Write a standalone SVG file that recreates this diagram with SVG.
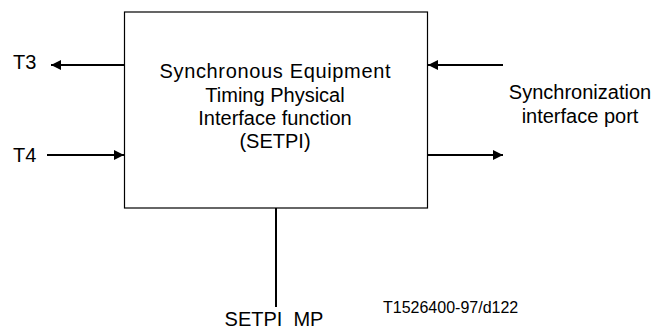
<svg xmlns="http://www.w3.org/2000/svg" width="657" height="331" viewBox="0 0 657 331">
<style>
text{font-family:"Liberation Sans",Arial,sans-serif;font-size:20px;fill:#000;white-space:pre}
.ln{stroke:#000;stroke-width:2;fill:none}
.box{fill:#fff;stroke:#000;stroke-width:1.2}
</style>
<defs>
<marker id="ah" viewBox="0 0 10 10" refX="10" refY="5" markerWidth="14" markerHeight="10" markerUnits="userSpaceOnUse" orient="auto">
<path d="M0,0 L10,5 L0,10 Z" fill="#000"/>
</marker>
</defs>
<g id="setpi">
<rect class="box" x="124.5" y="12" width="303" height="196"/>
<text text-anchor="middle" x="275" y="78" textLength="231" lengthAdjust="spacing">Synchronous Equipment</text>
<text text-anchor="middle" x="275" y="102">Timing Physical</text>
<text text-anchor="middle" x="275" y="125">Interface function</text>
<text text-anchor="middle" x="275" y="148">(SETPI)</text>
</g>
<g id="t3"><text x="13" y="69">T3</text></g>
<g id="t4"><text x="13" y="162">T4</text></g>
<g id="sync"><text text-anchor="middle" x="580" y="99">Synchronization</text><text text-anchor="middle" x="580" y="123">interface port</text></g>
<g id="mp"><text text-anchor="middle" x="274" y="326">SETPI  MP</text></g>
<g id="ref"><text x="383" y="313" style="font-size:16px">T1526400-97/d122</text></g>
<g id="connectors">
<line class="ln" x1="124" y1="65" x2="51" y2="65" marker-end="url(#ah)"/>
<line class="ln" x1="47" y1="155" x2="124" y2="155" marker-end="url(#ah)"/>
<line class="ln" x1="503" y1="65" x2="428" y2="65" marker-end="url(#ah)"/>
<line class="ln" x1="428" y1="155" x2="503" y2="155" marker-end="url(#ah)"/>
<line class="ln" x1="276" y1="208" x2="276" y2="307"/>
</g>
</svg>
